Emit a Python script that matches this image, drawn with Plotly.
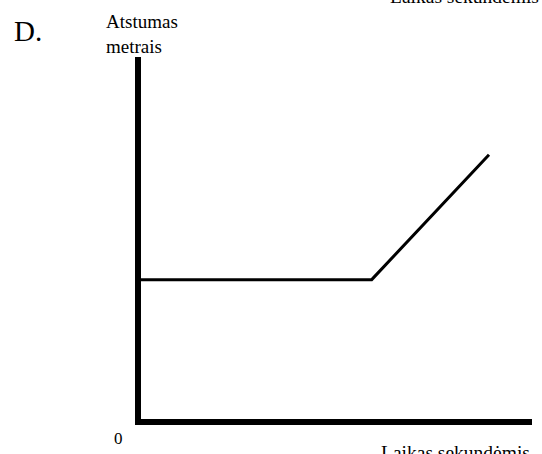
import plotly.graph_objects as go

# Data (arbitrary units)
time_s = [0, 5.9, 8.9]
distance_m = [3.85, 3.85, 7.3]

W, H = 542, 454
L, R, T, B = 141, 10, 57, 35
pw, ph = W - L - R, H - T - B

def px(x):
    return (x - L) / pw

def py(y):
    return (H - B - y) / ph

FONT = "Liberation Serif"

fig = go.Figure()
fig.add_trace(go.Scatter(x=time_s, y=distance_m, mode="lines",
                         line=dict(color="black", width=3), hoverinfo="skip",
                         showlegend=False))

annots = [
    dict(text="D.", x=px(12), y=py(31), xanchor="left", yanchor="middle", size=29),
    dict(text="Atstumas<br>metrais", x=px(104), y=py(34), xanchor="left", yanchor="middle", size=19),
    dict(text="0", x=px(118), y=py(438), xanchor="center", yanchor="middle", size=17),
    dict(text="Laikas sekundėmis", x=px(532), y=py(452), xanchor="right", yanchor="middle", size=19.5),
    dict(text="Laikas sekundėmis", x=px(541), y=py(-3), xanchor="right", yanchor="middle", size=19.5),
]
for a in annots:
    fig.add_annotation(text=a["text"], x=a["x"], y=a["y"], xref="paper", yref="paper",
                       xanchor=a["xanchor"], yanchor=a["yanchor"], showarrow=False,
                       align="left", font=dict(family=FONT, size=a["size"], color="black"))

fig.update_layout(
    width=W, height=H, margin=dict(l=L, r=R, t=T, b=B),
    paper_bgcolor="white", plot_bgcolor="white",
    xaxis=dict(range=[0, 10], showgrid=False, zeroline=False, showticklabels=False,
               ticks="", showline=True, linecolor="black", linewidth=6),
    yaxis=dict(range=[0, 10], showgrid=False, zeroline=False, showticklabels=False,
               ticks="", showline=True, linecolor="black", linewidth=6),
)

fig.write_html("out.html", config={"displayModeBar": False},
               post_script="document.body.style.margin='0';")
